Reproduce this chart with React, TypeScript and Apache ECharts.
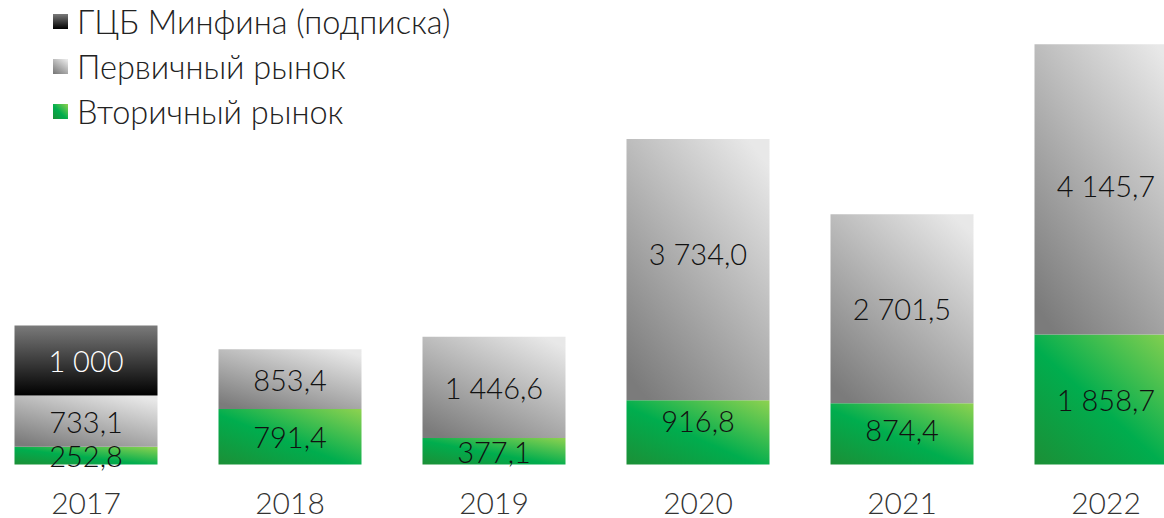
import React, { useEffect, useRef } from "react";
import * as echarts from "echarts";

const years = ["2017", "2018", "2019", "2020", "2021", "2022"];
const secondaryMarket = [252.8, 791.4, 377.1, 916.8, 874.4, 1858.7];
const primaryMarket = [733.1, 853.4, 1446.6, 3734.0, 2701.5, 4145.7];
const minfinSubscription = [1000, null, null, null, null, null];

const seriesNames = ["Вторичный рынок", "Первичный рынок", "ГЦБ Минфина (подписка)"];

function fmt(v: number, decimals: number): string {
  const s = v.toFixed(decimals);
  const [i, d] = s.split(".");
  const ig = i.replace(/\B(?=(\d{3})+(?!\d))/g, " ");
  return d ? ig + "," + d : ig;
}

const FONT = "Lato";
const WEIGHT = 300;

export default function App() {
  const ref = useRef<HTMLDivElement>(null);
  useEffect(() => {
    if (!ref.current) return;
    const chart = echarts.init(ref.current, undefined, { renderer: "svg" });
    const greenGrad = new echarts.graphic.LinearGradient(0, 1, 1, 0, [
      { offset: 0, color: "#1c8f36" },
      { offset: 0.45, color: "#00ad4e" },
      { offset: 1, color: "#8ed250" },
    ]);
    const grayGrad = new echarts.graphic.LinearGradient(0.15, 1, 0.85, 0, [
      { offset: 0, color: "#7b7b7b" },
      { offset: 1, color: "#e8e8e8" },
    ]);
    const blackGrad = new echarts.graphic.LinearGradient(0, 0, 0, 1, [
      { offset: 0, color: "#7a7a7a" },
      { offset: 1, color: "#000000" },
    ]);
    const labelBase = {
      show: true,
      position: "inside" as const,
      fontFamily: FONT,
      fontWeight: WEIGHT,
      fontSize: 29,
      color: "#111111",
    };
    // small vertical nudges of a few value labels, as in the original layout
    const greenOffsets = [0, 0, 0, -12, -4, 0];
    const grayOffsets = [0, 0, 0, -16, 0, -4];
    chart.setOption({
      animation: false,
      legend: {
        orient: "vertical",
        left: 64,
        top: 0,
        itemWidth: 15,
        itemHeight: 15,
        itemGap: 12,
        icon: "rect",
        data: [seriesNames[2], seriesNames[1], seriesNames[0]],
        textStyle: { fontFamily: FONT, fontWeight: WEIGHT, fontSize: 32.5, color: "#222222", padding: [0, 0, 0, 4] },
      },
      grid: { left: 0, right: 0, top: 37.5, bottom: 53.5 },
      xAxis: {
        type: "category",
        data: years,
        axisLine: { show: false },
        axisTick: { show: false },
        axisLabel: { fontFamily: FONT, fontWeight: WEIGHT, fontSize: 30, color: "#333333", margin: 22 },
      },
      yAxis: { type: "value", min: 0, max: 6100, show: false, splitLine: { show: false } },
      series: [
        {
          name: seriesNames[0],
          type: "bar",
          stack: "total",
          barWidth: 143,
          data: secondaryMarket.map((v, i) => ({ value: v, label: { offset: [0, greenOffsets[i]] } })),
          itemStyle: { color: greenGrad },
          label: { ...labelBase, formatter: (p: any) => fmt(p.value, 1) },
        },
        {
          name: seriesNames[1],
          type: "bar",
          stack: "total",
          barWidth: 143,
          data: primaryMarket.map((v, i) => ({ value: v, label: { offset: [0, grayOffsets[i]] } })),
          itemStyle: { color: grayGrad },
          label: { ...labelBase, formatter: (p: any) => fmt(p.value, 1) },
        },
        {
          name: seriesNames[2],
          type: "bar",
          stack: "total",
          barWidth: 143,
          data: minfinSubscription,
          itemStyle: { color: blackGrad },
          label: { ...labelBase, color: "#ffffff", formatter: (p: any) => (p.value == null ? "" : fmt(p.value, 0)) },
        },
      ],
    });
    return () => chart.dispose();
  }, []);
  return (
    <div style={{ position: "fixed", left: 0, top: 0, width: 1164, height: 518, overflow: "hidden", background: "#ffffff" }}>
      <div ref={ref} style={{ position: "absolute", left: -16, top: 0, width: 1224, height: 518 }} />
    </div>
  );
}
